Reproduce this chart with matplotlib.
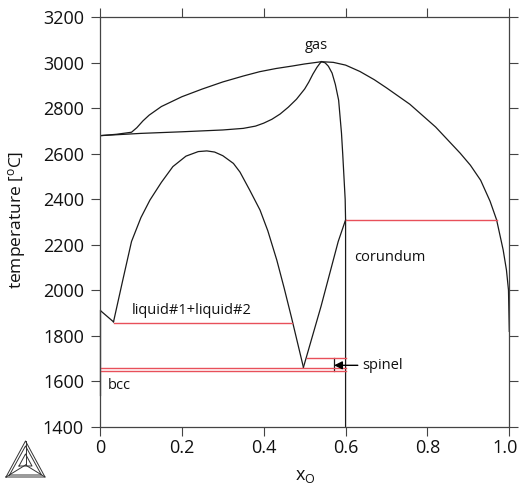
import matplotlib
matplotlib.use("Agg")
import matplotlib.pyplot as plt
import matplotlib.transforms as mtransforms

plt.rcParams['font.family'] = ['Open Sans', 'DejaVu Sans']
plt.rcParams['mathtext.fontset'] = 'custom'
plt.rcParams['mathtext.rm'] = 'Open Sans'
plt.rcParams['mathtext.it'] = 'Open Sans'

# ---------------- data ----------------
gas_upper_x = [0, 0.04, 0.077, 0.09, 0.105, 0.12, 0.15, 0.2, 0.25, 0.3, 0.35, 0.39, 0.43,
               0.47, 0.5, 0.525, 0.541, 0.57, 0.6, 0.635, 0.67, 0.7, 0.757, 0.82, 0.88,
               0.905, 0.93, 0.953, 0.969, 0.985, 0.993, 0.998, 1.0]
gas_upper_T = [2680, 2686, 2695, 2715, 2745, 2770, 2808, 2851, 2885, 2916, 2942, 2961, 2975,
               2986, 2995, 3001, 3005, 3002, 2990, 2962, 2926, 2890, 2818, 2718, 2603,
               2550, 2484, 2392, 2310, 2178, 2090, 2002, 1820]

gas_lower_x = [0, 0.1, 0.2, 0.3, 0.35, 0.38, 0.4, 0.42, 0.44, 0.46, 0.48, 0.5, 0.51,
               0.52, 0.53, 0.537, 0.541]
gas_lower_T = [2680, 2690, 2697, 2705, 2712, 2722, 2735, 2752, 2775, 2805, 2840, 2885, 2915,
               2950, 2980, 2997, 3005]

corundum_x = [0.541, 0.55, 0.558, 0.567, 0.575, 0.583, 0.59, 0.593, 0.596, 0.599, 0.6, 0.6]
corundum_T = [3005, 3000, 2985, 2955, 2905, 2836, 2691, 2600, 2500, 2400, 2310, 1400]

dome_x = [0.033, 0.055, 0.077, 0.1, 0.122, 0.15, 0.178, 0.21, 0.24, 0.261, 0.28, 0.3,
          0.326, 0.342, 0.366, 0.391, 0.41, 0.432, 0.45, 0.468, 0.497]
dome_T = [1862, 2040, 2215, 2320, 2397, 2475, 2544, 2590, 2610, 2613, 2608, 2592,
          2558, 2520, 2440, 2353, 2262, 2133, 2010, 1880, 1662]

liq_right_x = [0.497, 0.54, 0.582, 0.6]
liq_right_T = [1662, 1930, 2215, 2310]

left_x = [0, 0.033]
left_T = [1913, 1862]
bcc_x = [0, 0]
bcc_T = [1913, 1540]

spinel_x = [0.572, 0.572]
spinel_T = [1701, 1648]

# invariant (tie) lines: (x_start, x_end, T)
tie_lines = [
    (0.6, 0.969, 2310),
    (0.033, 0.468, 1858),
    (0.0, 0.6, 1659),
    (0.0, 0.6, 1648),
    (0.505, 0.6, 1701),
]

labels = [("gas", 0.529, 3074, "center"),
          ("corundum", 0.62, 2143, "left"),
          ("liquid#1+liquid#2", 0.077, 1913, "left"),
          ("bcc", 0.018, 1583, "left")]

x_ticks = [0, 0.2, 0.4, 0.6, 0.8, 1.0]
x_tick_labels = ["0", "0.2", "0.4", "0.6", "0.8", "1.0"]
y_ticks = [1400, 1600, 1800, 2000, 2200, 2400, 2600, 2800, 3000, 3200]

# ---------------- figure ----------------
fig = plt.figure(figsize=(5.2, 4.9), dpi=100)
ax = fig.add_axes([100/520, 1-427/490, 409.3/520, 409.7/490])

black = '#1a1a1a'
red = '#e8505a'
lw = 0.9

for (xs, ts) in [(gas_upper_x, gas_upper_T), (gas_lower_x, gas_lower_T),
                 (corundum_x, corundum_T), (dome_x, dome_T),
                 (liq_right_x, liq_right_T), (left_x, left_T), (spinel_x, spinel_T)]:
    ax.plot(xs, ts, color=black, lw=lw, solid_joinstyle='round')
ax.plot(bcc_x, bcc_T, color=black, lw=lw, clip_on=False)

for x0, x1, t in tie_lines:
    ax.plot([x0, x1], [t, t], color=red, lw=1.0)

for txt, x, t, ha in labels:
    ax.text(x, t, txt, ha=ha, va='center', fontsize=10.5, color='#111111')

ax.annotate("spinel", xy=(0.572, 1671), xytext=(0.64, 1671),
            ha='left', va='center', fontsize=10.5, color='#111111',
            arrowprops=dict(arrowstyle='-|>', color='black', lw=1.0,
                            mutation_scale=12, shrinkA=1, shrinkB=0))

ax.set_xlim(0, 1.0)
ax.set_ylim(1400, 3200)
ax.set_xticks(x_ticks)
ax.set_xticklabels(x_tick_labels)
ax.set_yticks(y_ticks)
ax.tick_params(direction='out', top=True, right=True, length=6.5, width=0.8,
               colors='#444444', labelcolor='#111111', labelsize=13)
ax.tick_params(axis='y', pad=5)
ax.tick_params(axis='x', pad=2)
for s in ax.spines.values():
    s.set_color('#444444')
    s.set_linewidth(0.9)

# keep the last x tick label inside the canvas
last = ax.get_xticklabels()[-1]
last.set_transform(last.get_transform() +
                   mtransforms.ScaledTranslation(-4/100, 0, fig.dpi_scale_trans))

fig.text(17.5/520, 1-220/490, "temperature [$^{\\rm o}$C]", rotation=90,
         ha='center', va='center', fontsize=12.5, color='#111111')
fig.text(305/520, 1-476/490, "x$_{\\rm O}$", ha='center', va='center',
         fontsize=13, color='#111111')

# Thermo-Calc style logo (decoration)
lax = fig.add_axes([0, 0, 60/520, 60/490])
lax.set_xlim(0, 60)
lax.set_ylim(490, 430)
lax.axis('off')
outer = [(6, 477), (25.5, 441), (45, 477), (6, 477)]
inner = [(9.5, 475), (25.5, 446), (41.5, 475), (9.5, 475)]
small = [(19, 466), (25.5, 454), (32, 466), (19, 466)]
for tri in (outer, inner, small):
    lax.plot([p[0] for p in tri], [p[1] for p in tri], color='#333333', lw=0.7)
for vx, vy in [(6, 477), (25.5, 441), (45, 477)]:
    lax.plot([25.5, vx], [465, vy], color='#333333', lw=0.7)

fig.savefig("out.png", dpi=100)
